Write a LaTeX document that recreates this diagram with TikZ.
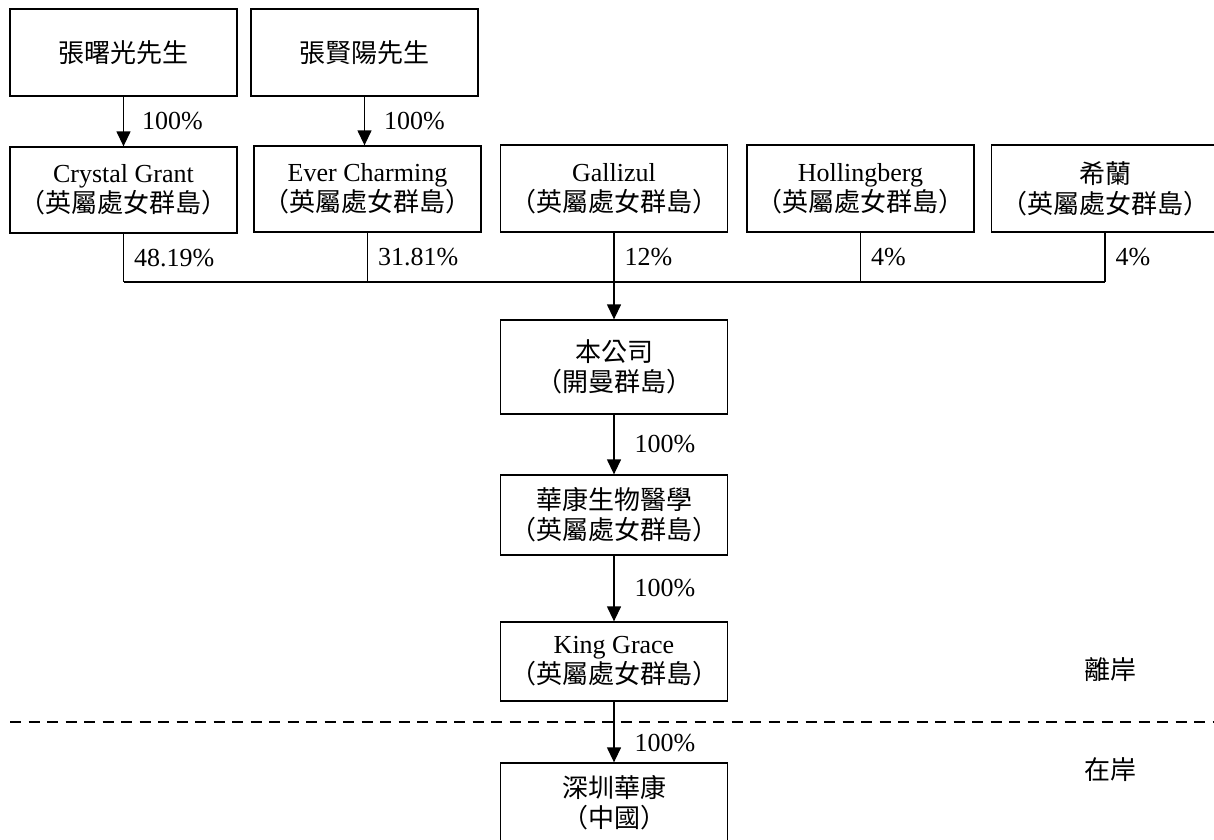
\documentclass[tikz,border=0pt]{standalone}
\usepackage{fontspec}
\setmainfont{Liberation Serif}
\newfontfamily\cjk{Noto Sans CJK TC}
\usetikzlibrary{arrows.meta,positioning,calc}

\begin{document}
\begin{tikzpicture}[x=1pt,y=-1pt,
  every node/.style={font=\fontsize{26}{30}\selectfont,inner sep=0pt},
  cn/.style={font=\fontsize{26}{30}\selectfont\cjk},
  box/.style={draw,line width=1.3pt,minimum width=227pt,align=center},
  pct/.style={right,xshift=10pt},
  arr/.style={line width=1.3pt,-{Triangle[width=14pt,length=15pt]}}]
\useasboundingbox (0,0) rectangle (1214,839);
\node[box,cn,minimum height=87pt] (zsg) at (123.5,52.5) {張曙光先生};
\node[box,cn,minimum height=87pt] (zxy) at (364.5,52.5) {張賢陽先生};
\node[box,minimum height=86pt] (crystal) at (123.5,190) {Crystal Grant\\{\cjk （英屬處女群島）}};
\node[box,minimum height=86pt] (ever) at (367.5,189) {Ever Charming\\{\cjk （英屬處女群島）}};
\node[box,minimum height=87pt] (gallizul) at (614,188.5) {Gallizul\\{\cjk （英屬處女群島）}};
\node[box,minimum height=87pt] (holl) at (860.5,188.5) {Hollingberg\\{\cjk （英屬處女群島）}};
\node[box,cn,minimum height=87pt] (xilan) at (1105,188.5) {希蘭\\（英屬處女群島）};
\node[box,cn,minimum height=94pt] (company) at (614,367) {本公司\\（開曼群島）};
\node[box,cn,minimum height=80pt] (huakang) at (614,515) {華康生物醫學\\（英屬處女群島）};
\node[box,minimum height=79pt] (king) at (614,661.5) {King Grace\\{\cjk （英屬處女群島）}};
\node[box,cn,minimum height=80pt] (shenzhen) at (614,803) {深圳華康\\（中國）};
\node[cn] (offshore) at (1110,670) {離岸};
\node[cn] (onshore) at (1110,770) {在岸};
\coordinate (bus) at (gallizul.south |- 0,282);
\draw[arr] (zsg.south) -- node[pct,xshift=8pt]{100\%} (zsg.south |- crystal.north);
\draw[arr] (zxy.south) -- node[pct,xshift=9pt]{100\%} (zxy.south |- ever.north);
\draw[line width=1.3pt] (crystal.south) -- node[pct]{48.19\%} (crystal.south |- bus);
\draw[line width=1.3pt] (ever.south) -- node[pct]{31.81\%} (ever.south |- bus);
\draw[line width=1.3pt] (gallizul.south) -- node[pct]{12\%} (bus);
\draw[line width=1.3pt] (holl.south) -- node[pct]{4\%} (holl.south |- bus);
\draw[line width=1.3pt] (xilan.south) -- node[pct]{4\%} (xilan.south |- bus);
\draw[line width=1.3pt] (crystal.south |- bus) -- (xilan.south |- bus);
\draw[arr] (bus) -- (company.north);
\draw[arr] (company.south) -- node[pct,xshift=10pt]{100\%} (huakang.north);
\draw[arr] (huakang.south) -- node[pct,xshift=10pt]{100\%} (king.north);
\draw[line width=1.3pt,dash pattern=on 11pt off 7.5pt] (10,722) -- (1214,722);
\draw[arr] (king.south) -- node[pct,pos=0.68,xshift=10pt]{100\%} (shenzhen.north);
\end{tikzpicture}
\end{document}
